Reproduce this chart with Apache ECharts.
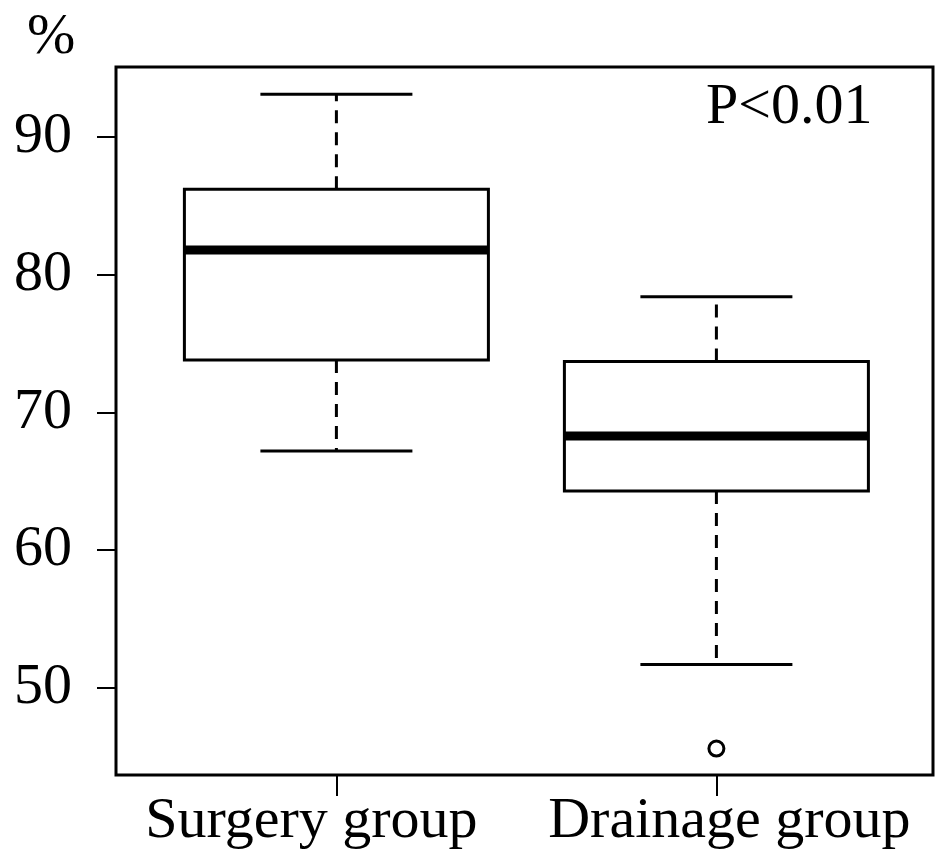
<!DOCTYPE html>
<html>
<head>
<meta charset="utf-8">
<script src="https://cdn.jsdelivr.net/npm/echarts@6/dist/echarts.min.js"></script>
<style>
  html, body { margin: 0; padding: 0; background: #fff; }
  #main { width: 937px; height: 857px; }
</style>
</head>
<body>
<div id="main"></div>
<script>
// data
var categories = ['Surgery group', 'Drainage group'];
var lowerWhisker = [67.2, 51.7];
var q1 = [73.8, 64.3];
var median = [81.8, 68.3];
var q3 = [86.2, 73.7];
var upperWhisker = [93.1, 78.4];
var outlierGroup = ['Drainage group'];
var outlierValue = [45.6];
var yTicks = [50, 60, 70, 80, 90];

var font = 'Liberation Serif';
var dom = document.getElementById('main');
var myChart = echarts.init(dom);

var boxData = [];
for (var i = 0; i < categories.length; i++) {
    boxData.push([i + 1, lowerWhisker[i], q1[i], median[i], q3[i], upperWhisker[i]]);
}
var outData = [];
for (var j = 0; j < outlierGroup.length; j++) {
    outData.push([categories.indexOf(outlierGroup[j]) + 1, outlierValue[j]]);
}

function renderBox(params, api) {
    var x = api.value(0);
    var halfW = api.size([0.8, 0])[0] / 2;
    var capW = api.size([0.4, 0])[0] / 2;
    var pLo = api.coord([x, api.value(1)]);
    var pQ1 = api.coord([x, api.value(2)]);
    var pMed = api.coord([x, api.value(3)]);
    var pQ3 = api.coord([x, api.value(4)]);
    var pHi = api.coord([x, api.value(5)]);
    var cx = pMed[0];
    var solid = {stroke: '#000', lineWidth: 3, fill: null};
    var dashed = {stroke: '#000', lineWidth: 3, lineDash: [13, 9]};
    return {
        type: 'group',
        children: [
            {type: 'line', shape: {x1: cx, y1: pQ3[1], x2: cx, y2: pHi[1]}, style: dashed},
            {type: 'line', shape: {x1: cx, y1: pQ1[1], x2: cx, y2: pLo[1]}, style: dashed},
            {type: 'line', shape: {x1: cx - capW, y1: pHi[1], x2: cx + capW, y2: pHi[1]}, style: solid},
            {type: 'line', shape: {x1: cx - capW, y1: pLo[1], x2: cx + capW, y2: pLo[1]}, style: solid},
            {type: 'rect', shape: {x: cx - halfW, y: pQ3[1], width: halfW * 2, height: pQ1[1] - pQ3[1]},
                style: {stroke: '#000', lineWidth: 3, fill: '#fff'}},
            {type: 'line', shape: {x1: cx - halfW, y1: pMed[1], x2: cx + halfW, y2: pMed[1]},
                style: {stroke: '#000', lineWidth: 9}}
        ]
    };
}

myChart.setOption({
    backgroundColor: '#fff',
    animation: false,
    grid: {left: 116, right: 4, top: 67, bottom: 82, show: true, borderColor: '#000', borderWidth: 3},
    xAxis: {
        type: 'value', min: 0.42, max: 2.57,
        splitLine: {show: false},
        axisLine: {show: false},
        axisTick: {show: true, customValues: [1, 2], length: 21, lineStyle: {color: '#000', width: 2}},
        axisLabel: {
            customValues: [1, 2], margin: 18,
            fontFamily: font, fontSize: 58, color: '#000',
            formatter: function (v) {
                var k = Math.round(v) - 1;
                return k === 0 ? '{a|' + categories[0] + '}' : '{b|' + categories[1] + '}';
            },
            rich: {
                a: {fontFamily: font, fontSize: 58, color: '#000', padding: [0, 50, 0, 0]},
                b: {fontFamily: font, fontSize: 58, color: '#000', padding: [0, 0, 0, 26]}
            }
        }
    },
    yAxis: {
        type: 'value', min: 43.68, max: 95.08,
        splitLine: {show: false},
        axisLine: {show: false},
        axisTick: {show: true, customValues: yTicks, length: 19, lineStyle: {color: '#000', width: 2}},
        axisLabel: {customValues: yTicks, margin: 44, fontFamily: font, fontSize: 58, color: '#000'}
    },
    graphic: [
        {type: 'text', left: 27, top: 9, style: {text: '%', fontFamily: font, fontSize: 58, fill: '#000'}},
        {type: 'text', left: 706, top: 79, style: {text: 'P<0.01', fontFamily: font, fontSize: 58, fill: '#000'}}
    ],
    series: [
        {type: 'custom', renderItem: renderBox, data: boxData, encode: {x: 0, y: [1, 2, 3, 4, 5]}},
        {type: 'scatter', data: outData, symbol: 'circle', symbolSize: 15,
            itemStyle: {color: '#fff', borderColor: '#000', borderWidth: 3, opacity: 1}}
    ]
});
</script>
</body>
</html>
